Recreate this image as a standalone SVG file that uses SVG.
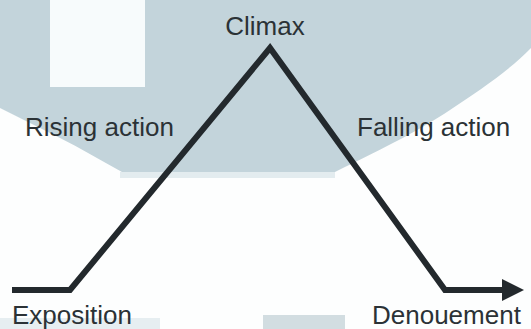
<svg xmlns="http://www.w3.org/2000/svg" width="531" height="329" viewBox="0 0 531 329">
<style>
text{font-family:"Liberation Sans",Arial,sans-serif;font-size:26px;fill:#2b3236}
.line{fill:none;stroke:#23292d;stroke-width:6;stroke-linejoin:miter}
</style>
<defs>
<marker id="arrow" markerUnits="userSpaceOnUse" markerWidth="24" markerHeight="24" refX="2" refY="12" orient="auto" viewBox="0 0 24 24">
<path d="M0,1 L22,12 L0,23 Z" fill="#23292d"/>
</marker>
</defs>
<rect width="531" height="329" fill="#fdfefe"/>
<g id="background">
<path d="M0,0 H531 V48 C510,70 480,90 450,110 C420,130 390,145 335,172 H122 C100,160 80,148 60,138 C40,128 20,118 0,108 Z" fill="#c3d4db"/>
<rect x="120" y="172" width="215" height="6" fill="#e3ecef"/>
<rect x="50" y="0" width="95" height="87" fill="#f7fbfc"/>
<rect x="263" y="315" width="82" height="14" fill="#d2dde1"/>
<rect x="0" y="318" width="160" height="11" fill="#e6eef1"/>
</g>
<g id="connectors">
<polyline class="line" points="12,290 70,290 270,48 445,290 504,290" marker-end="url(#arrow)"/>
</g>
<g id="climax"><text x="265" y="35" text-anchor="middle">Climax</text></g>
<g id="rising"><text x="25" y="136">Rising action</text></g>
<g id="falling"><text x="357" y="136">Falling action</text></g>
<g id="exposition"><text x="12" y="324">Exposition</text></g>
<g id="denouement"><text x="372" y="324">Denouement</text></g>
</svg>
